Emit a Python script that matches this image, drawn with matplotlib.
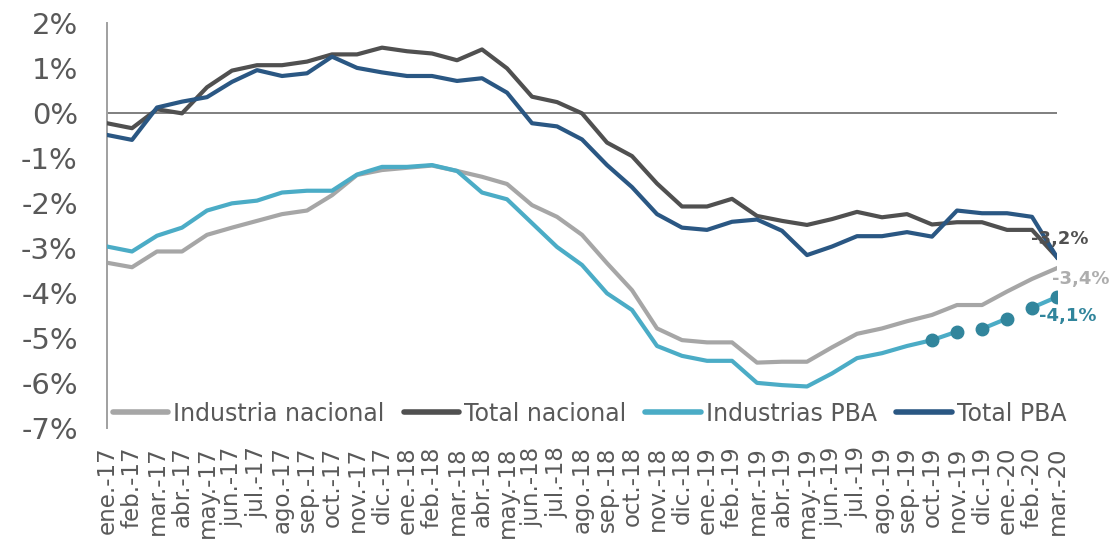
import numpy as np
import matplotlib.pyplot as plt

# meses (eje x)
meses = ['ene.-17', 'feb.-17', 'mar.-17', 'abr.-17', 'may.-17', 'jun.-17',
         'jul.-17', 'ago.-17', 'sep.-17', 'oct.-17', 'nov.-17', 'dic.-17',
         'ene.-18', 'feb.-18', 'mar.-18', 'abr.-18', 'may.-18', 'jun.-18',
         'jul.-18', 'ago.-18', 'sep.-18', 'oct.-18', 'nov.-18', 'dic.-18',
         'ene.-19', 'feb.-19', 'mar.-19', 'abr.-19', 'may.-19', 'jun.-19',
         'jul.-19', 'ago.-19', 'sep.-19', 'oct.-19', 'nov.-19', 'dic.-19',
         'ene.-20', 'feb.-20', 'mar.-20']

# variaciones en %
industria_nacional = [-3.32, -3.42, -3.07, -3.07, -2.70, -2.54, -2.39, -2.24, -2.16, -1.82,
                      -1.37, -1.26, -1.21, -1.16, -1.28, -1.41, -1.57, -2.04, -2.30, -2.70,
                      -3.33, -3.93, -4.78, -5.04, -5.09, -5.09, -5.54, -5.52, -5.52, -5.20,
                      -4.90, -4.78, -4.62, -4.48, -4.26, -4.26, -3.96, -3.68, -3.44]
total_nacional = [-0.22, -0.33, 0.09, 0.00, 0.58, 0.95, 1.07, 1.07, 1.15, 1.31,
                  1.31, 1.46, 1.38, 1.33, 1.18, 1.42, 1.00, 0.37, 0.25, 0.00,
                  -0.65, -0.95, -1.56, -2.07, -2.07, -1.90, -2.28, -2.39, -2.48, -2.35,
                  -2.19, -2.31, -2.24, -2.47, -2.42, -2.42, -2.59, -2.59, -3.20]
industrias_pba = [-2.96, -3.07, -2.72, -2.54, -2.16, -2.00, -1.94, -1.76, -1.72, -1.72,
                  -1.36, -1.19, -1.19, -1.15, -1.28, -1.76, -1.91, -2.44, -2.97, -3.37,
                  -4.00, -4.37, -5.17, -5.39, -5.50, -5.50, -5.99, -6.04, -6.07, -5.78,
                  -5.44, -5.33, -5.17, -5.04, -4.85, -4.79, -4.56, -4.32, -4.08]
total_pba = [-0.48, -0.59, 0.13, 0.26, 0.36, 0.70, 0.96, 0.83, 0.89, 1.26,
             1.01, 0.91, 0.83, 0.83, 0.72, 0.78, 0.46, -0.22, -0.29, -0.58,
             -1.15, -1.64, -2.24, -2.54, -2.59, -2.41, -2.36, -2.61, -3.15, -2.96,
             -2.73, -2.73, -2.64, -2.74, -2.16, -2.22, -2.22, -2.30, -3.20]

# tramos visibles de Industrias PBA y puntos con marcador
tramos_pba = [(0, 34), (35, 36), (37, 38)]
inicio_marcas = 33

c_ind_nac = '#A6A6A6'
c_tot_nac = '#505050'
c_ind_pba = '#4BACC6'
c_tot_pba = '#2A5783'
c_marca = '#31859C'
c_texto = '#595959'

plt.rcParams['font.family'] = ['DejaVu Sans']

fig = plt.figure(figsize=(11.17, 5.43), dpi=100)
ax = fig.add_axes([0.0958, 0.2112, 0.8505, 0.7458])

x = np.arange(len(meses))
lw = 3.0

ax.axhline(0, color='#7F7F7F', lw=1.4, zorder=1)

ax.plot(x, industria_nacional, color=c_ind_nac, lw=lw, label='Industria nacional', zorder=2)
ax.plot(x, total_nacional, color=c_tot_nac, lw=lw, label='Total nacional', zorder=3)
ipba = np.array(industrias_pba)
for k, (a, b) in enumerate(tramos_pba):
    ax.plot(x[a:b + 1], ipba[a:b + 1], color=c_ind_pba, lw=lw, zorder=4,
            label='Industrias PBA' if k == 0 else None)
ax.plot(x[inicio_marcas:], ipba[inicio_marcas:], ls='none', marker='o', ms=9,
        color=c_marca, zorder=5)
ax.plot(x, total_pba, color=c_tot_pba, lw=lw, label='Total PBA', zorder=6)

# etiquetas del ultimo dato
ult = len(meses) - 1
ax.annotate(f"{total_nacional[ult]:.1f}%".replace('.', ','), (x[ult], total_nacional[ult]),
            xytext=(2, 13), textcoords='offset points', ha='center', va='center',
            fontsize=13, fontweight='bold', color=c_tot_nac, zorder=7)
ax.annotate(f"{industria_nacional[ult]:.1f}%".replace('.', ','), (x[ult], industria_nacional[ult]),
            xytext=(17, -8), textcoords='offset points', ha='center', va='center',
            fontsize=13, fontweight='bold', color='#ADADAD', zorder=7)
ax.annotate(f"{industrias_pba[ult]:.1f}%".replace('.', ','), (x[ult], industrias_pba[ult]),
            xytext=(8, -14), textcoords='offset points', ha='center', va='center',
            fontsize=13, fontweight='bold', color=c_marca, zorder=7)

ax.set_xlim(0, len(meses) - 1)
ax.set_ylim(-7, 2)
ax.set_xticks(x)
ax.set_xticklabels(meses, rotation=90, fontsize=16.5, color=c_texto)
ticks_y = list(range(-7, 3))
ax.set_yticks(ticks_y)
ax.set_yticklabels([f"{v}%" for v in ticks_y], fontsize=21, color=c_texto)
ax.tick_params(axis='x', length=0, pad=13)
ax.tick_params(axis='y', length=0, pad=21)

for s in ['top', 'right', 'bottom']:
    ax.spines[s].set_visible(False)
ax.spines['left'].set_color('#A0A0A0')
ax.spines['left'].set_linewidth(1.4)

leg = ax.legend(loc='center left', bbox_to_anchor=(0.006, 0.036), ncol=4, frameon=False,
                fontsize=17, handlelength=2.35, handletextpad=0.22, columnspacing=0.8,
                borderpad=0, borderaxespad=0)
for t in leg.get_texts():
    t.set_color(c_texto)
for h in leg.get_lines():
    h.set_linewidth(4)
    h.set_solid_capstyle('round')

plt.savefig('out.png', dpi=100)
